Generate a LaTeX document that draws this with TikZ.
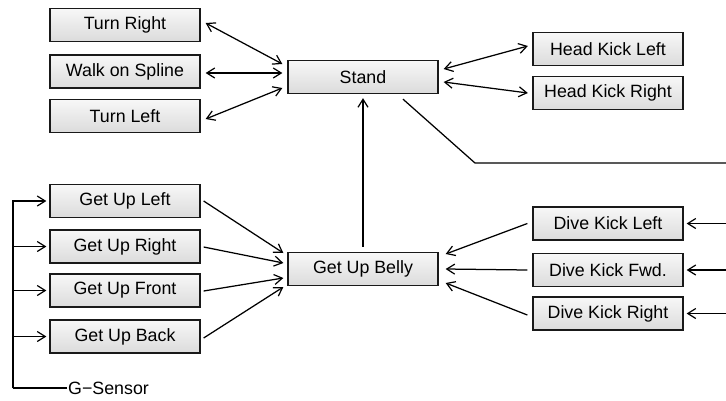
\documentclass[tikz,border=0pt]{standalone}
\usepackage{fontspec}
\setmainfont{Liberation Sans}
\usetikzlibrary{arrows.meta}
\begin{document}
\begin{tikzpicture}[x=1pt,y=-1pt,
  box/.style={draw=black!90,line width=1.3pt,top color=gray!6,bottom color=gray!28,
    minimum width=150pt,minimum height=33pt,inner sep=0pt,font=\fontsize{17.8}{20}\selectfont},
  conn/.style={line width=1.25pt,draw=black},
  >={Straight Barb[length=8pt,width=10pt,line width=1.2pt]}]
\useasboundingbox (0,0) rectangle (726,400);
% nodes
\node[box] (tr) at (125,25) {Turn Right};
\node[box] (ws) at (125,71.5) {Walk on Spline};
\node[box] (tl) at (125,116) {Turn Left};
\node[box] (stand) at (363,77) {Stand};
\node[box] (hkl) at (608,49) {Head Kick Left};
\node[box] (hkr) at (608,93) {Head Kick Right};
\node[box] (gul) at (125,201) {Get Up Left};
\node[box] (gur) at (125,246.5) {Get Up Right};
\node[box] (guf) at (125,290.5) {Get Up Front};
\node[box] (gub) at (125,336.5) {Get Up Back};
\node[box] (belly) at (363,269) {Get Up Belly};
\node[box] (dkl) at (608,223.5) {Dive Kick Left};
\node[box] (dkf) at (608,270) {Dive Kick Fwd.};
\node[box] (dkr) at (608,313.5) {Dive Kick Right};
\node[anchor=west,inner sep=1pt,font=\fontsize{17.8}{20}\selectfont] (gs) at (67,388) {G\char"2212 Sensor};
% coordinates
\coordinate (gsc) at (13,388);
\coordinate (k1) at (475,163);
\coordinate (k2) at (726,163);
\coordinate (e1) at (726,223.5);
\coordinate (e2) at (726,270);
\coordinate (e3) at (726,313.5);
% left to stand
\draw[conn,<->] ([xshift=5pt,yshift=2pt]tr.east) -- ([xshift=-5pt,yshift=13pt]stand.west);
\draw[conn,<->] ([xshift=5pt,yshift=-1.5pt]ws.east) -- ([xshift=-5pt,yshift=4pt]stand.west);
\draw[conn,<->] ([xshift=5pt,yshift=-3pt]tl.east) -- ([xshift=-5pt,yshift=-11pt]stand.west);
% stand to head kicks
\draw[conn,<->] ([xshift=5pt,yshift=8pt]stand.east) -- ([xshift=-4.5pt,yshift=3pt]hkl.west);
\draw[conn,<->] ([xshift=5pt,yshift=-5pt]stand.east) -- ([xshift=-4.5pt]hkr.west);
% stand diagonal
\draw[conn] ([xshift=40pt,yshift=-5pt]stand.south) -- (k1) -- (k2);
% belly to stand
\draw[conn,->] ([yshift=5pt]belly.north) -- ([yshift=-4pt]stand.south);
% get ups to belly
\draw[conn,->] ([xshift=3pt]gul.east) -- ([xshift=-4pt,yshift=16pt]belly.west);
\draw[conn,->] ([xshift=3pt,yshift=-0.5pt]gur.east) -- ([xshift=-4pt,yshift=6pt]belly.west);
\draw[conn,->] ([xshift=3pt,yshift=-0.5pt]guf.east) -- ([xshift=-4pt,yshift=-9pt]belly.west);
\draw[conn,->] ([xshift=3pt,yshift=-1.5pt]gub.east) -- ([xshift=-4pt,yshift=-18pt]belly.west);
% dive kicks to belly
\draw[conn,->] ([xshift=-5pt]dkl.west) -- ([xshift=7pt,yshift=15pt]belly.east);
\draw[conn,->] ([xshift=-5pt]dkf.west) -- ([xshift=7pt]belly.east);
\draw[conn,->] ([xshift=-5pt,yshift=-1.5pt]dkr.west) -- ([xshift=7pt,yshift=-14pt]belly.east);
% external to dive kicks
\draw[conn,->] (e1) -- ([xshift=3pt]dkl.east);
\draw[conn,->] (e2) -- ([xshift=3pt]dkf.east);
\draw[conn,->] (e3) -- ([xshift=3pt]dkr.east);
% G-Sensor
\draw[conn] (gs.west) -- (gsc);
\draw[conn,->] (gsc) |- ([xshift=-3pt]gul.west);
\draw[conn,->] (gsc) |- ([xshift=-3pt]gur.west);
\draw[conn,->] (gsc) |- ([xshift=-3pt]guf.west);
\draw[conn,->] (gsc) |- ([xshift=-3pt]gub.west);
\end{tikzpicture}
\end{document}
